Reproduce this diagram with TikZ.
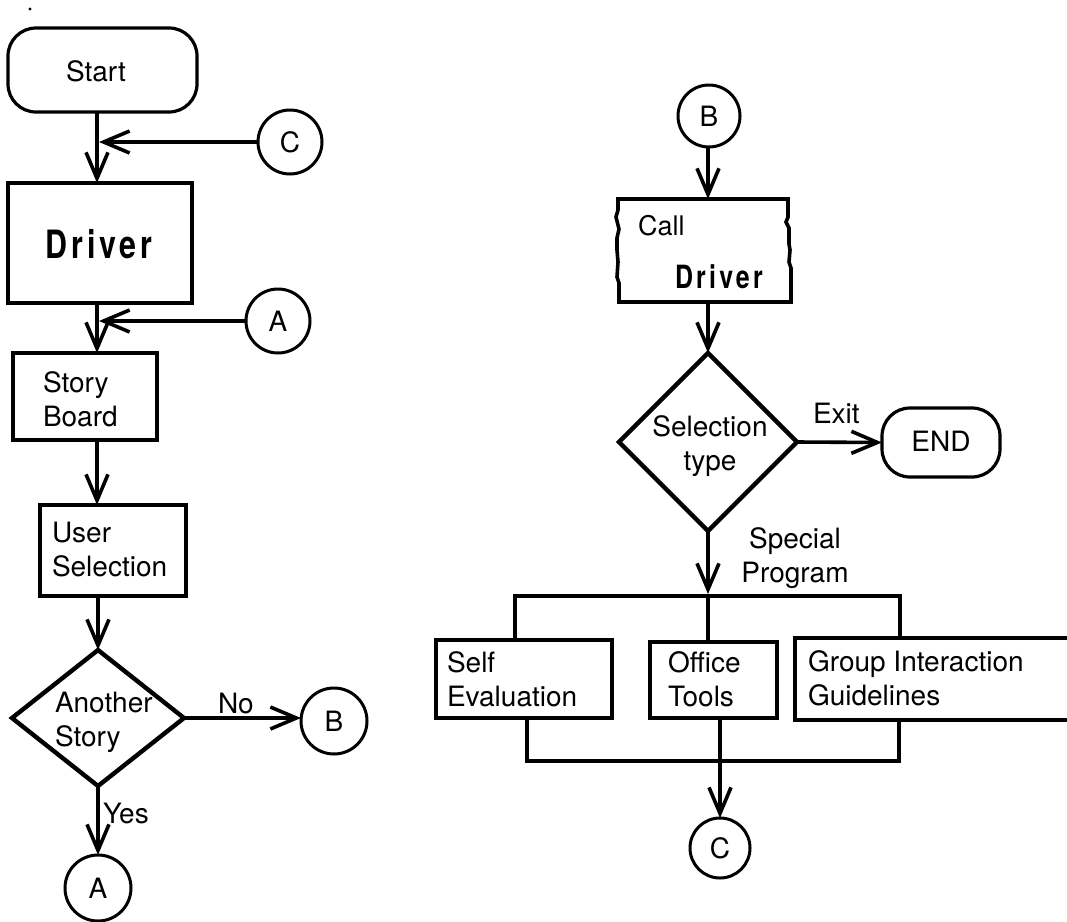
\documentclass[tikz,border=0pt]{standalone}
\usepackage{fontspec}
\setmainfont{TeX Gyre Heros}
\newfontfamily\drvfont{TeX Gyre Heros}[FakeStretch=0.78, LetterSpace=10]
\usetikzlibrary{shapes.geometric, arrows.meta, calc}

\begin{document}
\begin{tikzpicture}[x=1pt, y=-1pt,
  line width=3.6pt,
  every node/.style={inner sep=0pt, outer sep=0pt},
  txt/.style={font=\fontsize{28}{34}\selectfont, align=left},
  boxnode/.style={draw, rectangle, line width=3.6pt},
  circ/.style={draw, circle, minimum size=#1, line width=3pt, font=\fontsize{28}{34}\selectfont},
  circ/.default=64pt,
  diam/.style={draw, diamond, line width=4.4pt},
  term/.style={draw, rectangle, rounded corners=28pt, line width=3.2pt},
  arr/.style={-{Straight Barb[length=26pt, width=22pt]}, line width=3.6pt},
  wire/.style={line width=3.2pt},
]
\fill[white] (0,0) rectangle (1067,921);
\useasboundingbox (0,0) rectangle (1067,921);

% stray speck in the top left corner
\fill (30,9) circle (1.6pt);

% ---------------- left column ----------------
\coordinate (colL) at (97,0);

\node[term, minimum width=189pt, minimum height=84pt] (start) at (102.5,70) {};
\node[txt, anchor=base] (tstart) at (96,81) {Start};

\node[circ] (c1) at (290,142) {C};

\node[boxnode, minimum width=184pt, minimum height=120pt] (drv) at (100,243) {};
\node[anchor=base, font=\drvfont\bfseries\fontsize{39}{44}\selectfont] (tdrv) at (99,258) {Driver};

\node[circ] (a1) at (278,321) {A};

% two-line labels are anchored at the baseline of their last line
\node[boxnode, minimum width=144pt, minimum height=87pt] (sb) at (85,396.5) {};
\node[txt, anchor=base west] (tsb) at (43,426) {Story\\Board};

\node[boxnode, minimum width=146pt, minimum height=91pt] (us) at (113,550.5) {};
\node[txt, anchor=base west] (tus) at (52,576) {User\\Selection};

\node[diam, minimum width=172pt, minimum height=136pt] (d1) at (98,718) {};
\node[txt, anchor=base west] (td1) at (55,746) {Another\\Story};

\node[circ=66pt] (b1) at (334,721) {B};
\node[circ=66pt] (a2) at (98,888) {A};

\node[txt, anchor=base west] (tno) at (218,713) {No};
\node[txt, anchor=base west] (tyes) at (103,823) {Yes};

% connectors of the left column
\draw[arr] (start.south -| colL) -- (drv.north -| colL);
\draw[arr] (c1.west) -- ($(colL |- c1.west)+(2,0)$);
\draw[arr] (drv.south -| colL) -- (sb.north -| colL);
\draw[arr] (a1.west) -- ($(colL |- a1.west)+(2,0)$);
\draw[arr] (sb.south -| colL) -- (us.north -| colL);
\draw[arr] (us.south -| d1.north) -- (d1.north);
\draw[arr] (d1.east) -- (b1.west |- d1.east);
\draw[arr] (d1.south) -- (d1.south |- a2.north);

% ---------------- right column ----------------
\coordinate (colR) at (708,0);

\node[circ=62pt] (b2) at (709,116) {B};

% "Call Driver" box with ragged side edges
\node[minimum width=172pt, minimum height=103pt] (cd) at (704,250.5) {};
\draw[line width=3.6pt, line join=miter]
  (618,199) -- (788,199) -- (788,217) -- (786,222) -- (789,228) -- (789,244)
  -- (790,250) -- (789,262) -- (791,268) -- (791,302) -- (619,302)
  -- (619,283) -- (617,277) -- (618,262) -- (617,250) -- (617,238)
  -- (619,229) -- (616,217) -- (618,210) -- cycle;
\node[txt, anchor=base west, font=\fontsize{27}{32}\selectfont] (tcall) at (638,235) {Call};
\node[anchor=base west, font=\drvfont\bfseries\fontsize{32}{38}\selectfont] (tdrv2) at (675,288) {Driver};

\node[diam, minimum width=178pt, minimum height=178pt] (d2) at (708,442) {};
\node[txt, align=center, anchor=base] (td2) at (710,470) {Selection\\type};

\node[term, minimum width=118pt, minimum height=69pt] (end) at (941,442.5) {};
\node[txt, anchor=base] (tend) at (941,451) {END};
\node[txt, anchor=base west] (texit) at (813,423) {Exit};

\node[txt, align=center, anchor=base] (tsp) at (795,582) {Special\\Program};

\node[boxnode, minimum width=176pt, minimum height=78pt] (se) at (524,679) {};
\node[txt, anchor=base west] (tse) at (447,706) {Self\\Evaluation};

\node[boxnode, minimum width=127pt, minimum height=76pt] (ot) at (713.5,680) {};
\node[txt, anchor=base west] (tot) at (668,706) {Office\\Tools};

\node[boxnode, minimum width=285pt, minimum height=82pt] (gi) at (937.5,679) {};
\node[txt, anchor=base west] (tgi) at (808,705) {Group Interaction\\Guidelines};

\node[circ=60pt] (c2) at (720,848) {C};

% connectors of the right column
\coordinate (tL) at (515,596);
\coordinate (tR) at (900,596);
\coordinate (bL) at (527,761);
\coordinate (bR) at (899,761);

\draw[arr] (b2.south -| colR) -- (cd.north -| colR);
\draw[arr] (cd.south -| colR) -- (d2.north);
\draw[arr] (d2.east) -- (end.west);
\draw[arr] (d2.south) -- ($(d2.south |- tL)+(0,-2)$);
\draw[wire] (tL |- se.north) -- (tL) -- (tR) -- (tR |- gi.north);
\draw[wire] (d2.south |- tL) -- (d2.south |- ot.north);
\draw[wire] (bL |- se.south) -- (bL) -- (bR) -- (bR |- gi.south);
\draw[arr] (ot.south -| c2.north) -- (c2.north);
\end{tikzpicture}
\end{document}
